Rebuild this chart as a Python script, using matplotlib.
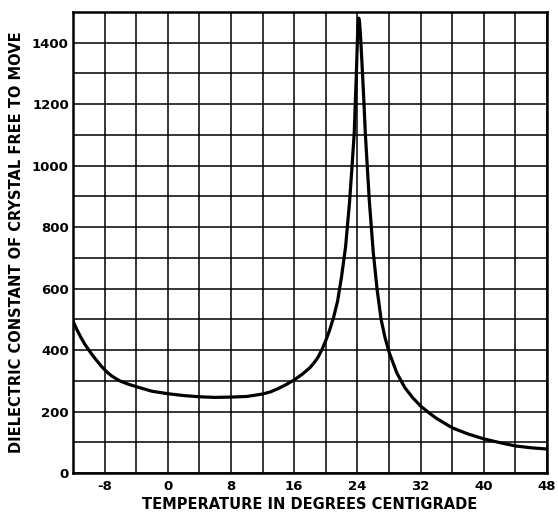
import matplotlib
matplotlib.use("Agg")
import matplotlib.pyplot as plt
from matplotlib.ticker import MultipleLocator

plt.rcParams["axes.unicode_minus"] = False

# temperature (deg C) and dielectric constant
temp = [-12, -11.5, -11, -10.5, -10, -9.5, -9, -8.5, -8, -7.5, -7, -6.5, -6, -5, -4, -2, 0, 2, 4, 6, 8, 10,
        12, 13, 14, 15, 16, 17, 18, 18.5, 19, 19.5, 20, 20.5, 21, 21.5, 22, 22.5, 23.0, 23.3,
        23.6, 23.9, 24.0, 24.08, 24.17, 24.27, 24.4, 24.6, 24.8, 25.0, 25.5, 26.0, 26.5,
        27.0, 27.5, 28.0, 29.0, 30.0, 31.0, 32.0, 33.0, 34.0, 36.0, 38.0, 40.0, 42.0,
        44.0, 46.0, 48.0]
eps = [494, 466, 441, 419, 400, 382, 366, 350, 336, 324, 314, 306, 299, 289, 281, 266, 258, 252, 248, 246, 247, 249,
       257, 264, 275, 288, 303, 321, 343, 358, 376, 401, 431, 466, 508, 560, 640, 735, 880, 990,
       1107, 1323, 1410, 1462, 1480, 1468, 1420, 1323, 1220, 1107, 889, 720, 596,
       500, 440, 394, 325, 278, 245, 218, 197, 178, 147, 127, 111, 99,
       88, 82, 78]

xticks = [-8, 0, 8, 16, 24, 32, 40, 48]
yticks = [0, 200, 400, 600, 800, 1000, 1200, 1400]

fig = plt.figure(figsize=(5.58, 5.12), dpi=100)
ax = fig.add_axes([73 / 558, 1 - 473 / 512, (547 - 73) / 558, (473 - 12) / 512])

ax.plot(temp, eps, color="black", lw=2.3, solid_joinstyle="round", solid_capstyle="round", zorder=3)

ax.set_xlim(-12, 48)
ax.set_ylim(0, 1500)
ax.set_xticks(xticks)
ax.set_yticks(yticks)
ax.xaxis.set_minor_locator(MultipleLocator(4))
ax.yaxis.set_minor_locator(MultipleLocator(100))
ax.grid(True, which="both", color="black", lw=1.1)
ax.tick_params(which="both", length=0)
ax.tick_params(axis="x", pad=5)
ax.tick_params(axis="y", pad=3)
for lab in ax.get_xticklabels() + ax.get_yticklabels():
    lab.set_fontsize(9.5)
    lab.set_fontweight("bold")
for s in ax.spines.values():
    s.set_linewidth(1.8)

ax.set_xlabel("TEMPERATURE IN DEGREES CENTIGRADE", fontsize=10.5, fontweight="bold", labelpad=3)
ax.set_ylabel("DIELECTRIC CONSTANT OF CRYSTAL FREE TO MOVE", fontsize=10.5, fontweight="bold", labelpad=6)

fig.savefig("out.png", dpi=100)
